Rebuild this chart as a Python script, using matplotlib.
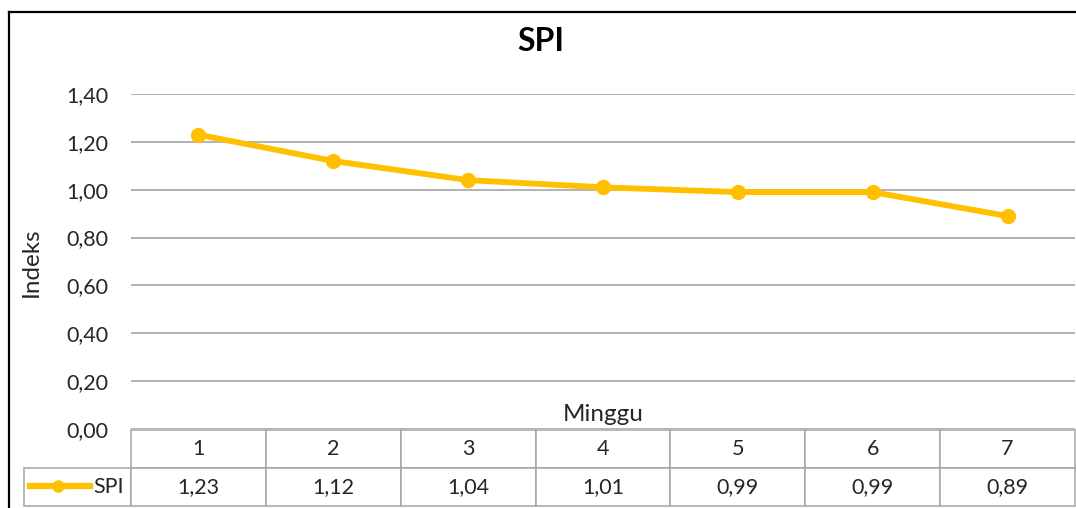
import matplotlib.pyplot as plt
from matplotlib.ticker import FuncFormatter, MultipleLocator
from matplotlib.lines import Line2D

plt.rcParams['font.family'] = ['Lato', 'DejaVu Sans']

# data
minggu = ['1', '2', '3', '4', '5', '6', '7']
spi = [1.23, 1.12, 1.04, 1.01, 0.99, 0.99, 0.89]

W, H = 1076, 508
gold = '#FFC000'
grid_c = '#A6A6A6'
txt_c = '#262626'
fs = 15.5

fig = plt.figure(figsize=(W / 100, H / 100), dpi=100)

# plot area in pixels
px_l, px_r, px_t, px_b = 131, 1075, 94, 429
ax = fig.add_axes([px_l / W, 1 - px_b / H, (px_r - px_l) / W, (px_b - px_t) / H])

x = list(range(1, len(spi) + 1))
ax.plot(x, spi, color=gold, lw=4.2, marker='o', ms=10, solid_capstyle='round')

ax.set_xlim(0.5, len(spi) + 0.5)
ax.set_ylim(0, 1.4)
ax.yaxis.set_major_locator(MultipleLocator(0.2))
ax.yaxis.set_major_formatter(FuncFormatter(lambda v, p: f'{v:.2f}'.replace('.', ',')))
ax.grid(axis='y', color=grid_c, lw=1.2)
ax.set_axisbelow(True)
ax.set_xticks([])
ax.tick_params(axis='y', length=0, pad=16, labelsize=fs, labelcolor=txt_c)
for s in ax.spines.values():
    s.set_visible(False)

# data table under the plot (first column holds the series label)
ax_h = px_b - px_t
ax_w = px_r - px_l
tb_top, tb_bot, tb_left = 430, 506, 24
cells = [['SPI'] + [f'{v:.2f}'.replace('.', ',') for v in spi]]
tab = ax.table(cellText=cells, colLabels=[''] + minggu, cellLoc='center',
               colWidths=[107 / ax_w] + [135 / ax_w] * len(spi),
               bbox=[(tb_left - px_l) / ax_w, (px_b - tb_bot) / ax_h,
                     (px_r - tb_left) / ax_w, (tb_bot - tb_top) / ax_h])
tab.auto_set_font_size(False)
tab.set_fontsize(fs)
for (r, c), cell in tab.get_celld().items():
    cell.set_edgecolor(grid_c)
    cell.set_linewidth(1.1)
    cell.get_text().set_color(txt_c)
tab[0, 0].visible_edges = ''
tab[1, 0].get_text().set_horizontalalignment('right')
tab[1, 0].PAD = 0.07

# legend key inside the label cell
fig.add_artist(Line2D([30 / W, 90 / W], [1 - 486 / H] * 2, color=gold, lw=4.5,
                      transform=fig.transFigure))
fig.add_artist(Line2D([58 / W], [1 - 486 / H], color=gold, marker='o', ms=8,
                      transform=fig.transFigure))

ax.text(0.5, (px_b - 421) / ax_h, 'Minggu', transform=ax.transAxes,
        ha='center', va='baseline', fontsize=17.5, color=txt_c)
fig.text(31 / W, 1 - 262 / H, 'Indeks', rotation=90, ha='center', va='center',
         fontsize=17.5, color=txt_c)
fig.text(541 / W, 1 - 51 / H, 'SPI', ha='center', va='baseline',
         fontsize=23, fontweight='bold', color='black')

# chart frame
fig.add_artist(Line2D([9 / W, 9 / W], [0, 1 - 12 / H], color='black', lw=1.6,
                      transform=fig.transFigure))
fig.add_artist(Line2D([9 / W, 1], [1 - 12 / H] * 2, color='black', lw=1.6,
                      transform=fig.transFigure))

fig.savefig('out.png', dpi=100)
